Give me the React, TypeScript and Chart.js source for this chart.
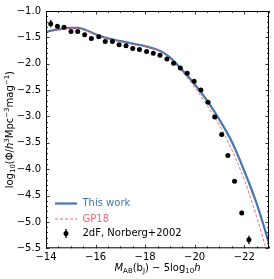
import React, { useEffect, useRef } from "react";
import { Chart, registerables } from "chart.js";
Chart.register(...registerables);

// 2dF, Norberg+2002 observations
const obsMag = [
  -14.19, -14.46, -14.73, -15.01, -15.28, -15.56, -15.83, -16.13, -16.39, -16.68,
  -16.95, -17.23, -17.5, -17.77, -18.06, -18.33, -18.6, -18.88, -19.15, -19.42,
  -19.7, -19.98, -20.25, -20.54, -20.81, -21.09, -21.34, -21.61, -21.9, -22.19,
];
const obsLogPhi = [
  -1.24, -1.29, -1.31, -1.39, -1.39, -1.45, -1.52, -1.49, -1.58, -1.58,
  -1.64, -1.66, -1.71, -1.73, -1.77, -1.8, -1.84, -1.91, -1.99, -2.08,
  -2.18, -2.33, -2.5, -2.73, -3.01, -3.34, -3.74, -4.23, -4.83, -5.34,
];
const obsErr = [
  0.07, 0.04, 0.03, 0.02, 0.02, 0.02, 0.02, 0.02, 0.02, 0.02,
  0.02, 0.02, 0.02, 0.02, 0.02, 0.02, 0.02, 0.02, 0.02, 0.02,
  0.02, 0.02, 0.02, 0.02, 0.02, 0.02, 0.02, 0.03, 0.04, 0.08,
];

// This work
const modelMag = [
  -14.0, -14.5, -15.0, -15.3, -15.6, -16.0, -16.5, -17.0, -17.5, -18.0, -18.4,
  -18.7, -19.0, -19.5, -20.0, -20.5, -21.0, -21.5, -22.0, -22.5, -23.0,
];
const thisWork = [
  -1.39, -1.35, -1.32, -1.32, -1.36, -1.44, -1.52, -1.57, -1.62, -1.665, -1.72,
  -1.78, -1.88, -2.12, -2.39, -2.7, -3.06, -3.48, -4.03, -4.65, -5.4,
];
// GP18
const gp18 = [
  -1.4, -1.36, -1.33, -1.33, -1.37, -1.45, -1.53, -1.58, -1.63, -1.675, -1.73,
  -1.79, -1.9, -2.15, -2.45, -2.79, -3.17, -3.63, -4.2, -4.9, -5.7,
];

const xTicks = [-22, -20, -18, -16, -14];
const yTicks = [-5.5, -5.0, -4.5, -4.0, -3.5, -3.0, -2.5, -2.0, -1.5, -1.0];

const BLUE = "#4477AA";
const RED = "#EE6677";
const FONT = '"DejaVu Sans"';

type Seg = { t: string; it?: boolean; sub?: boolean; sup?: boolean };

function drawRich(ctx: CanvasRenderingContext2D, segs: Seg[], cx: number, cy: number, size: number, rotate: boolean) {
  const fnt = (s: Seg) => {
    const sz = s.sub || s.sup ? size * 0.7 : size;
    return `${s.it ? "italic " : ""}${sz}px ${FONT}`;
  };
  let total = 0;
  const ws: number[] = [];
  for (const s of segs) {
    ctx.font = fnt(s);
    const w = ctx.measureText(s.t).width;
    ws.push(w);
    total += w;
  }
  ctx.save();
  ctx.translate(cx, cy);
  if (rotate) ctx.rotate(-Math.PI / 2);
  ctx.fillStyle = "#000";
  ctx.textBaseline = "middle";
  ctx.textAlign = "left";
  let x = -total / 2;
  segs.forEach((s, i) => {
    ctx.font = fnt(s);
    const dy = s.sub ? size * 0.28 : s.sup ? -size * 0.33 : 0;
    ctx.fillText(s.t, x, dy);
    x += ws[i];
  });
  ctx.restore();
}

const fmt = (v: number, d: number) => {
  const s = Math.abs(v).toFixed(d);
  return v < 0 ? "\u2212" + s : s;
};

export default function App() {
  const ref = useRef<HTMLCanvasElement | null>(null);
  useEffect(() => {
    document.body.style.margin = "0";
    const canvas = ref.current!;
    const extras = {
      id: "extras",
      afterDatasetsDraw(chart: any) {
        const ctx = chart.ctx as CanvasRenderingContext2D;
        const xs = chart.scales.x;
        const ys = chart.scales.y;
        const ca = chart.chartArea;
        ctx.save();
        ctx.beginPath();
        ctx.rect(ca.left, ca.top, ca.right - ca.left, ca.bottom - ca.top);
        ctx.clip();
        ctx.strokeStyle = "#000";
        ctx.lineWidth = 1.3;
        obsMag.forEach((m, i) => {
          const px = xs.getPixelForValue(m);
          ctx.beginPath();
          ctx.moveTo(px, ys.getPixelForValue(obsLogPhi[i] - obsErr[i]));
          ctx.lineTo(px, ys.getPixelForValue(obsLogPhi[i] + obsErr[i]));
          ctx.stroke();
        });
        ctx.restore();
      },
      afterDraw(chart: any) {
        const ctx = chart.ctx as CanvasRenderingContext2D;
        const xs = chart.scales.x;
        const ys = chart.scales.y;
        const ca = chart.chartArea;
        ctx.save();
        ctx.strokeStyle = "#000";
        ctx.lineWidth = 0.8;
        // ticks
        ctx.beginPath();
        for (let v = -23; v <= -14 + 1e-9; v += 0.5) {
          const major = Math.abs(v / 2 - Math.round(v / 2)) < 1e-6;
          const L = major ? 3.5 : 2;
          const px = Math.round(xs.getPixelForValue(v)) + 0.5;
          ctx.moveTo(px, ca.bottom);
          ctx.lineTo(px, ca.bottom - L);
          ctx.moveTo(px, ca.top);
          ctx.lineTo(px, ca.top + L);
        }
        for (let k = -55; k <= -10; k++) {
          const v = k / 10;
          const major = k % 5 === 0;
          const L = major ? 3.5 : 2;
          const py = Math.round(ys.getPixelForValue(v)) + 0.5;
          ctx.moveTo(ca.left, py);
          ctx.lineTo(ca.left + L, py);
          ctx.moveTo(ca.right, py);
          ctx.lineTo(ca.right - L, py);
        }
        ctx.stroke();
        // frame
        ctx.lineWidth = 1;
        ctx.strokeRect(ca.left + 0.5, ca.top + 0.5, ca.right - ca.left - 1, ca.bottom - ca.top - 1);

        // axis titles
        drawRich(ctx, [
          { t: "log" }, { t: "10", sub: true }, { t: "(\u03A6/" }, { t: "h", it: true }, { t: "3", sup: true },
          { t: "Mpc" }, { t: "\u22123", sup: true }, { t: "mag" }, { t: "\u22121", sup: true }, { t: ")" },
        ], 10, (ca.top + ca.bottom) / 2, 10, true);
        drawRich(ctx, [
          { t: "M", it: true }, { t: "AB", sub: true }, { t: "(b" }, { t: "J", sub: true },
          { t: ") \u2212 5log" }, { t: "10", sub: true }, { t: "h", it: true },
        ], (ca.left + ca.right) / 2, 268, 10, false);

        // legend
        const lx0 = 55, lx1 = 77, tx = 82.5;
        const rows = [203.5, 219, 233.5];
        ctx.textBaseline = "middle";
        ctx.textAlign = "left";
        ctx.font = `10px ${FONT}`;
        ctx.strokeStyle = BLUE;
        ctx.lineWidth = 2.2;
        ctx.beginPath();
        ctx.moveTo(lx0, rows[0]);
        ctx.lineTo(lx1, rows[0]);
        ctx.stroke();
        ctx.fillStyle = BLUE;
        ctx.fillText("This work", tx, rows[0]);
        ctx.strokeStyle = RED;
        ctx.lineWidth = 1;
        ctx.setLineDash([3, 2]);
        ctx.beginPath();
        ctx.moveTo(lx0, rows[1]);
        ctx.lineTo(lx1, rows[1]);
        ctx.stroke();
        ctx.setLineDash([]);
        ctx.fillStyle = RED;
        ctx.fillText("GP18", tx, rows[1]);
        ctx.strokeStyle = "#000";
        ctx.fillStyle = "#000";
        ctx.lineWidth = 1.3;
        ctx.beginPath();
        ctx.moveTo(66, rows[2] - 4.5);
        ctx.lineTo(66, rows[2] + 4.5);
        ctx.stroke();
        ctx.beginPath();
        ctx.arc(66, rows[2], 2.5, 0, Math.PI * 2);
        ctx.fill();
        ctx.fillText("2dF, Norberg+2002", tx, rows[2]);
        ctx.restore();
      },
    };

    const chart = new Chart(canvas, {
      type: "scatter",
      data: {
        datasets: [
          {
            label: "2dF, Norberg+2002",
            data: obsMag.map((m, i) => ({ x: m, y: obsLogPhi[i] })),
            backgroundColor: "#000",
            borderColor: "#000",
            pointRadius: 2.5,
            pointBorderWidth: 0,
            order: 0,
          },
          {
            type: "line",
            label: "GP18",
            data: modelMag.map((m, i) => ({ x: m, y: gp18[i] })),
            borderColor: RED,
            borderWidth: 1,
            borderDash: [3, 2],
            pointRadius: 0,
            cubicInterpolationMode: "monotone",
            fill: false,
            order: 1,
          } as any,
          {
            type: "line",
            label: "This work",
            data: modelMag.map((m, i) => ({ x: m, y: thisWork[i] })),
            borderColor: BLUE,
            borderWidth: 2.2,
            pointRadius: 0,
            cubicInterpolationMode: "monotone",
            fill: false,
            order: 2,
          } as any,
        ],
      },
      options: {
        animation: false,
        responsive: false,
        layout: { padding: { left: 0, right: 5, top: 9.5, bottom: 0 } },
        plugins: { legend: { display: false }, tooltip: { enabled: false } },
        scales: {
          x: {
            type: "linear",
            min: -23,
            max: -14,
            reverse: true,
            grid: { display: false, drawTicks: false },
            border: { display: false },
            afterBuildTicks: (s: any) => { s.ticks = xTicks.map((v) => ({ value: v })); },
            afterFit: (s: any) => { s.height = 30.7; },
            ticks: {
              color: "#000",
              font: { family: FONT, size: 10 },
              padding: 3,
              maxRotation: 0,
              callback: (v: any) => fmt(Number(v), 0),
            },
          },
          y: {
            type: "linear",
            min: -5.5,
            max: -1.0,
            grid: { display: false, drawTicks: false },
            border: { display: false },
            afterBuildTicks: (s: any) => { s.ticks = yTicks.map((v) => ({ value: v })); },
            afterFit: (s: any) => { s.width = 46; },
            ticks: {
              color: "#000",
              font: { family: FONT, size: 10 },
              padding: 5,
              callback: (v: any) => fmt(Number(v), 1),
            },
          },
        },
      },
      plugins: [extras],
    });
    return () => chart.destroy();
  }, []);
  return <canvas ref={ref} width={274} height={279} style={{ display: "block", width: 274, height: 279 }} />;
}
